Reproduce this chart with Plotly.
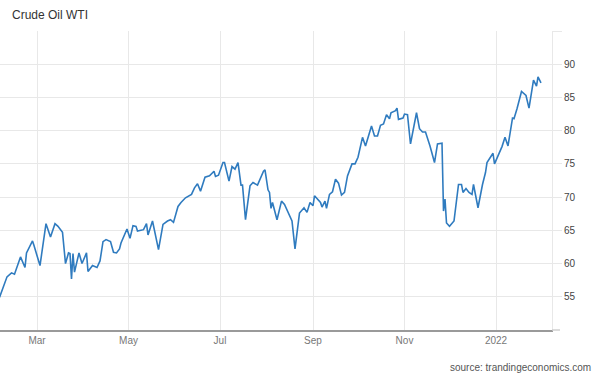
import plotly.graph_objects as go

dates = [
    "2021-02-04", "2021-02-09", "2021-02-12", "2021-02-14", "2021-02-18", "2021-02-21", "2021-02-22",
    "2021-02-26", "2021-02-27", "2021-03-03", "2021-03-07", "2021-03-10", "2021-03-13", "2021-03-15",
    "2021-03-18", "2021-03-20", "2021-03-22", "2021-03-23", "2021-03-24", "2021-03-25", "2021-03-26",
    "2021-03-29", "2021-03-31", "2021-04-03", "2021-04-04", "2021-04-07", "2021-04-10", "2021-04-12",
    "2021-04-14", "2021-04-16", "2021-04-19", "2021-04-21", "2021-04-23", "2021-04-25", "2021-04-26",
    "2021-04-30", "2021-05-02", "2021-05-04", "2021-05-06", "2021-05-07", "2021-05-11", "2021-05-13",
    "2021-05-14", "2021-05-17", "2021-05-21", "2021-05-24", "2021-05-27", "2021-05-29", "2021-05-31",
    "2021-06-03", "2021-06-05", "2021-06-08", "2021-06-12", "2021-06-14", "2021-06-16", "2021-06-18",
    "2021-06-21", "2021-06-24", "2021-06-27", "2021-06-28", "2021-06-30", "2021-07-03", "2021-07-04",
    "2021-07-07", "2021-07-09", "2021-07-11", "2021-07-13", "2021-07-15", "2021-07-16", "2021-07-18",
    "2021-07-21", "2021-07-23", "2021-07-26", "2021-07-30", "2021-07-31", "2021-08-02", "2021-08-03",
    "2021-08-04", "2021-08-05", "2021-08-08", "2021-08-11", "2021-08-13", "2021-08-18", "2021-08-20",
    "2021-08-23", "2021-08-24", "2021-08-26", "2021-08-28", "2021-08-30", "2021-09-01", "2021-09-02",
    "2021-09-06", "2021-09-07", "2021-09-09", "2021-09-10", "2021-09-12", "2021-09-14", "2021-09-16",
    "2021-09-18", "2021-09-20", "2021-09-22", "2021-09-24", "2021-09-27", "2021-09-29", "2021-10-01",
    "2021-10-04", "2021-10-06", "2021-10-10", "2021-10-12", "2021-10-14", "2021-10-16", "2021-10-18",
    "2021-10-20", "2021-10-22", "2021-10-23", "2021-10-26", "2021-10-27", "2021-10-28", "2021-10-31",
    "2021-11-01", "2021-11-03", "2021-11-05", "2021-11-07", "2021-11-09", "2021-11-11", "2021-11-13",
    "2021-11-15", "2021-11-18", "2021-11-21", "2021-11-23", "2021-11-26", "2021-11-27", "2021-11-28",
    "2021-11-29", "2021-12-01", "2021-12-03", "2021-12-04", "2021-12-07", "2021-12-09", "2021-12-10",
    "2021-12-12", "2021-12-14", "2021-12-16", "2021-12-17", "2021-12-20", "2021-12-23", "2021-12-25",
    "2021-12-26", "2021-12-30", "2021-12-31", "2022-01-05", "2022-01-07", "2022-01-09", "2022-01-12",
    "2022-01-13", "2022-01-15", "2022-01-18", "2022-01-21", "2022-01-23", "2022-01-26", "2022-01-28",
    "2022-01-29", "2022-01-31",
]

prices = [
    54.9, 58.0, 58.6, 58.4, 61.0, 59.4, 61.6,
    63.4, 62.7, 59.7, 66.0, 64.0, 66.0, 65.6,
    64.7, 60.0, 61.6, 61.5, 57.7, 61.5, 58.7,
    61.6, 60.0, 61.6, 58.8, 59.7, 59.4, 60.4,
    63.3, 63.6, 63.3, 61.7, 61.6, 62.2, 63.1,
    65.2, 63.8, 65.7, 65.6, 64.9, 65.1, 66.0,
    64.3, 66.4, 62.1, 65.9, 66.4, 66.6, 66.2,
    68.6, 69.2, 69.9, 70.4, 71.4, 72.0, 70.9,
    73.0, 73.2, 73.9, 73.1, 73.3, 75.2, 75.2,
    72.4, 74.6, 74.2, 75.2, 71.8, 71.8, 66.6,
    71.7, 72.2, 71.8, 73.9, 74.1, 71.1, 70.7,
    68.3, 69.2, 66.6, 69.4, 68.9, 66.4, 62.2,
    67.6, 67.9, 68.4, 67.7, 69.2, 68.7, 70.2,
    69.2, 68.5, 69.4, 68.3, 70.4, 70.8, 72.7,
    72.1, 70.3, 70.7, 73.2, 75.0, 75.0, 76.0,
    79.0, 77.7, 80.7, 79.2, 79.2, 80.8, 81.0,
    82.4, 81.8, 82.7, 83.0, 83.4, 81.7, 81.9,
    82.5, 82.4, 78.0, 80.5, 82.7, 80.3, 79.8,
    79.8, 77.7, 75.2, 78.0, 78.1, 67.9, 69.7,
    66.1, 65.6, 66.2, 66.4, 71.9, 71.9, 70.7,
    71.3, 70.7, 70.4, 71.9, 68.4, 71.9, 73.7,
    75.2, 76.6, 75.0, 77.6, 79.0, 77.7, 81.9,
    81.8, 83.3, 85.9, 85.3, 83.4, 87.6, 86.7,
    88.1, 87.2,
]

x_tick_dates = ["2021-03-01", "2021-05-01", "2021-07-01", "2021-09-01", "2021-11-01", "2022-01-01"]
x_tick_labels = ["Mar", "May", "Jul", "Sep", "Nov", "2022"]
y_tick_values = [55, 60, 65, 70, 75, 80, 85, 90, 95]
y_tick_labels = ["55", "60", "65", "70", "75", "80", "85", "90", ""]

title_text = "Crude Oil WTI"
source_text = "source: trandingeconomics.com"

grid_color = "#e8e8e8"
font_family = "Liberation Sans, Arial, sans-serif"

fig = go.Figure()
fig.add_trace(go.Scatter(
    x=dates, y=prices, mode="lines",
    line=dict(color="#2f7bbf", width=1.6),
    hoverinfo="x+y", showlegend=False,
))

fig.update_layout(
    width=600, height=376,
    margin=dict(l=0, r=48, t=31, b=46),
    paper_bgcolor="white", plot_bgcolor="white",
    font=dict(family=font_family, size=10, color="#555"),
    title=dict(text=title_text, x=12 / 600, xanchor="left", xref="container",
               y=1 - 15 / 376, yanchor="middle", yref="container",
               font=dict(family=font_family, size=12, color="#333")),
    xaxis=dict(
        range=["2021-02-04 08:00", "2022-02-07 08:00"],
        tickmode="array", tickvals=x_tick_dates, ticktext=x_tick_labels,
        showgrid=True, gridcolor=grid_color, gridwidth=1,
        showline=True, linecolor="#9a9a9a", linewidth=1.5,
        ticks="", tickfont=dict(size=10, color="#777"),
        zeroline=False, fixedrange=True,
    ),
    yaxis=dict(
        range=[50, 95], side="right",
        tickmode="array", tickvals=y_tick_values, ticktext=y_tick_labels,
        showgrid=True, gridcolor=grid_color, gridwidth=1,
        showline=True, linecolor=grid_color, linewidth=1,
        ticks="outside", ticklen=9, tickcolor=grid_color, tickwidth=1,
        tickfont=dict(size=10, color="#444"),
        zeroline=False, fixedrange=True,
    ),
    shapes=[dict(type="line", xref="paper", yref="paper", x0=1, x1=1 + 8 / 552, y0=0, y1=0,
                 line=dict(color="#cfcfcf", width=1.5))],
    annotations=[dict(text=source_text, xref="paper", yref="paper", x=1 + 41 / 552, y=-37 / 298,
                      xanchor="right", yanchor="middle", showarrow=False,
                      font=dict(family=font_family, size=10, color="#555"))],
)

fig.write_html("out.html", config={"displayModeBar": False},
               post_script="document.body.style.margin='0';document.body.style.overflow='hidden';")
